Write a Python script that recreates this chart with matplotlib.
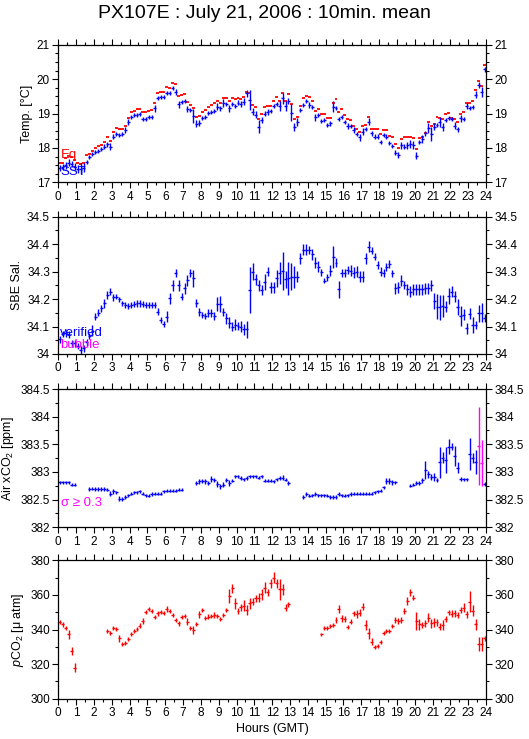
import numpy as np
import matplotlib
matplotlib.use('Agg')
import matplotlib.pyplot as plt
from matplotlib.ticker import MultipleLocator, FuncFormatter

plt.rcParams['font.family'] = ['Liberation Sans', 'DejaVu Sans']
plt.rcParams['mathtext.fontset'] = 'custom'
plt.rcParams['mathtext.rm'] = 'Liberation Sans'
plt.rcParams['mathtext.it'] = 'Liberation Sans:italic'

nan = np.nan

# 10 minute bins over the day (144 bins), one value per bin
# SST (blue) and equilibrator temperature (red dashes)
sst = [17.42, 17.45, 17.50, 17.57, 17.53, 17.45, 17.38, 17.40, 17.43, 17.60, 17.73, 17.82,
       17.87, 17.90, 17.96, 18.04, 18.10, 18.04, 18.33, 18.40, 18.37, 18.40, 18.52, 18.76,
       18.89, 18.95, 18.96, 18.98, 18.83, 18.83, 18.91, 18.91, 19.15, 19.44, 19.49, 19.49,
       19.59, 19.59, 19.73, 19.63, 19.27, 19.34, 19.36, 19.13, 19.10, 18.93, 18.70, 18.73,
       18.86, 18.91, 19.02, 19.05, 19.08, 19.20, 19.15, 19.30, 19.28, 19.15, 19.28, 19.22,
       19.32, 19.28, 19.34, 19.59, 19.39, 19.05, 18.96, 18.62, 18.81, 19.00, 19.05, 19.07,
       19.22, 19.28, 19.22, 19.44, 19.22, 19.36, 19.02, 18.60, 18.76, 19.10, 19.25, 19.36,
       19.25, 19.18, 18.89, 18.96, 18.79, 18.81, 18.67, 18.71, 19.20, 19.15, 18.83, 18.89,
       18.76, 18.64, 18.64, 18.52, 18.40, 18.31, 18.47, 18.54, 18.76, 18.42, 18.33, 18.33,
       18.18, 18.37, 18.33, 18.15, 18.06, 17.86, 17.79, 18.08, 18.04, 18.08, 18.11, 18.08,
       17.77, 18.18, 18.25, 18.42, 18.57, 18.40, 18.62, 18.67, 18.76, 18.60, 18.81, 18.86,
       18.83, 18.64, 18.54, 18.86, 18.83, 19.22, 19.15, 19.20, 19.54, 19.83, 19.63, 20.28]
sst_err = [0.08, 0.08, 0.10, 0.10, 0.08, 0.10, 0.12, 0.15, 0.12, 0.06, 0.06, 0.06,
           0.06, 0.06, 0.06, 0.06, 0.08, 0.10, 0.08, 0.06, 0.06, 0.06, 0.10, 0.08,
           0.06, 0.06, 0.06, 0.06, 0.06, 0.06, 0.06, 0.06, 0.10, 0.06, 0.06, 0.06,
           0.06, 0.06, 0.06, 0.08, 0.10, 0.06, 0.06, 0.08, 0.06, 0.20, 0.10, 0.08,
           0.06, 0.06, 0.06, 0.06, 0.06, 0.10, 0.08, 0.12, 0.06, 0.10, 0.06, 0.06,
           0.08, 0.08, 0.10, 0.10, 0.30, 0.10, 0.10, 0.20, 0.10, 0.08, 0.08, 0.06,
           0.06, 0.06, 0.15, 0.15, 0.15, 0.08, 0.25, 0.12, 0.12, 0.06, 0.06, 0.06,
           0.08, 0.06, 0.10, 0.06, 0.06, 0.06, 0.06, 0.06, 0.15, 0.06, 0.06, 0.06,
           0.06, 0.08, 0.06, 0.08, 0.06, 0.10, 0.10, 0.06, 0.10, 0.06, 0.06, 0.06,
           0.06, 0.06, 0.06, 0.06, 0.06, 0.08, 0.08, 0.10, 0.06, 0.10, 0.12, 0.12,
           0.10, 0.06, 0.12, 0.06, 0.15, 0.20, 0.10, 0.06, 0.15, 0.12, 0.06, 0.06,
           0.06, 0.10, 0.08, 0.10, 0.06, 0.08, 0.06, 0.06, 0.10, 0.08, 0.15, 0.06]
t_eq = [17.55, 17.55, 17.70, 17.77, 17.73, 17.65, 17.55, 17.53, 17.57, 17.78, 17.81, 17.91,
        17.99, 18.06, 18.08, 18.17, 18.31, 18.20, 18.45, 18.59, 18.54, 18.54, 18.65, 18.86,
        19.05, 19.08, 19.14, 19.14, 19.03, 19.03, 19.07, 19.10, 19.30, 19.59, 19.62, 19.63,
        19.76, 19.73, 19.88, 19.85, 19.51, 19.53, 19.56, 19.34, 19.26, 19.15, 18.91, 18.93,
        19.03, 19.09, 19.20, 19.24, 19.30, 19.37, 19.30, 19.46, 19.46, 19.36, 19.44, 19.41,
        19.46, 19.42, 19.49, 19.63, 19.61, 19.25, 19.18, 18.83, 18.98, 19.20, 19.22, 19.23,
        19.37, 19.47, 19.35, 19.61, 19.35, 19.56, 19.28, 18.83, 18.89, 19.23, 19.44, 19.52,
        19.47, 19.37, 19.07, 19.14, 18.98, 18.98, 18.86, 18.86, 19.31, 19.41, 19.03, 19.12,
        18.95, 18.83, 18.81, 18.64, 18.55, 18.47, 18.64, 18.67, 18.91, 18.54, 18.54, 18.54,
        18.40, 18.52, 18.52, 18.35, 18.31, 18.11, 17.99, 18.25, 18.31, 18.33, 18.31, 18.30,
        17.96, 18.30, 18.31, 18.42, 18.74, 18.65, 18.69, 18.89, 18.86, 18.85, 19.00, 19.02,
        18.86, 18.83, 18.74, 18.99, 19.03, 19.32, 19.32, 19.37, 19.68, 19.95, 19.81, 20.40]

# SBE salinity
sal = [34.053, 34.073, 34.075, 34.072, 34.039, 34.039, 34.029, 34.015, 34.020, 34.042, 34.065, 34.085,
       34.136, 34.150, 34.166, 34.184, 34.215, 34.227, 34.206, 34.209, 34.199, 34.184, 34.178, 34.175,
       34.178, 34.182, 34.184, 34.184, 34.182, 34.178, 34.178, 34.178, 34.178, 34.154, 34.124, 34.109,
       34.136, 34.203, 34.251, 34.294, 34.251, 34.209, 34.239, 34.269, 34.294, 34.275, 34.187, 34.154,
       34.142, 34.138, 34.148, 34.148, 34.138, 34.182, 34.182, 34.154, 34.130, 34.114, 34.100, 34.106,
       34.102, 34.100, 34.090, 34.090, 34.233, 34.300, 34.272, 34.251, 34.233, 34.263, 34.300, 34.243,
       34.243, 34.275, 34.296, 34.303, 34.272, 34.275, 34.282, 34.282, 34.282, 34.348, 34.379, 34.379,
       34.379, 34.363, 34.333, 34.318, 34.297, 34.267, 34.279, 34.303, 34.354, 34.333, 34.235, 34.296,
       34.294, 34.306, 34.303, 34.296, 34.300, 34.282, 34.282, 34.348, 34.391, 34.376, 34.354, 34.324,
       34.300, 34.296, 34.318, 34.328, 34.294, 34.239, 34.243, 34.266, 34.251, 34.235, 34.227, 34.235,
       34.235, 34.235, 34.235, 34.239, 34.239, 34.251, 34.193, 34.172, 34.170, 34.175, 34.172, 34.211,
       34.227, 34.211, 34.172, 34.138, 34.142, 34.093, 34.146, 34.106, 34.106, 34.148, 34.150, 34.130]
sal_err = [0.012, 0.012, 0.012, 0.012, 0.012, 0.012, 0.012, 0.015, 0.012, 0.012, 0.012, 0.02,
           0.012, 0.012, 0.012, 0.015, 0.015, 0.012, 0.012, 0.01, 0.01, 0.01, 0.01, 0.01,
           0.01, 0.012, 0.012, 0.012, 0.01, 0.01, 0.01, 0.01, 0.01, 0.012, 0.012, 0.012,
           0.02, 0.02, 0.02, 0.015, 0.02, 0.012, 0.02, 0.02, 0.015, 0.03, 0.015, 0.015,
           0.012, 0.012, 0.015, 0.015, 0.015, 0.025, 0.03, 0.015, 0.02, 0.02, 0.015, 0.02,
           0.015, 0.02, 0.02, 0.03, 0.085, 0.03, 0.02, 0.02, 0.02, 0.03, 0.015, 0.02,
           0.02, 0.03, 0.04, 0.07, 0.03, 0.06, 0.05, 0.04, 0.02, 0.02, 0.02, 0.02,
           0.015, 0.02, 0.02, 0.02, 0.012, 0.01, 0.012, 0.02, 0.04, 0.015, 0.03, 0.015,
           0.015, 0.015, 0.02, 0.02, 0.02, 0.02, 0.02, 0.02, 0.02, 0.012, 0.012, 0.015,
           0.015, 0.015, 0.015, 0.015, 0.012, 0.02, 0.02, 0.02, 0.015, 0.02, 0.02, 0.02,
           0.02, 0.02, 0.02, 0.02, 0.02, 0.02, 0.03, 0.045, 0.045, 0.04, 0.02, 0.03,
           0.02, 0.02, 0.03, 0.035, 0.02, 0.02, 0.02, 0.03, 0.015, 0.03, 0.035, 0.015]

# Air xCO2 (ppm)
xco2 = [382.81, 382.81, 382.81, 382.81, 382.77, 382.77, nan, nan, nan, nan, 382.69, 382.70,
        382.69, 382.69, 382.69, 382.69, 382.68, 382.61, 382.65, 382.63, 382.52, 382.51, 382.55, 382.58,
        382.61, 382.63, 382.63, 382.65, 382.61, 382.58, 382.57, 382.60, 382.61, 382.61, 382.61, 382.65,
        382.66, 382.66, 382.66, 382.66, 382.68, 382.68, nan, nan, nan, nan, 382.80, 382.83,
        382.84, 382.83, 382.80, 382.87, 382.86, 382.78, 382.74, 382.77, 382.86, 382.80, 382.84, 382.92,
        382.92, 382.89, 382.87, 382.89, 382.92, 382.92, 382.92, 382.90, 382.92, 382.84, 382.84, 382.84,
        382.83, 382.87, 382.89, 382.90, 382.86, 382.80, nan, nan, nan, nan, 382.55, 382.60,
        382.57, 382.58, 382.60, 382.58, 382.58, 382.58, 382.57, 382.55, 382.55, 382.55, 382.60, 382.58,
        382.57, 382.58, 382.60, 382.61, 382.61, 382.61, 382.61, 382.61, 382.61, 382.61, 382.63, 382.65,
        382.66, 382.72, 382.84, 382.84, 382.81, 382.81, nan, nan, nan, nan, 382.75, 382.77,
        382.80, 382.80, 382.85, 383.03, 382.96, 382.91, 382.91, 382.86, 383.18, 383.26, 383.22, 383.46,
        383.46, 383.29, 383.08, 382.87, 382.87, 382.87, 383.33, 383.25, 383.18, 383.47, 383.16, 382.78]
xco2_err = [0.03, 0.03, 0.03, 0.03, 0.03, 0.03, 0, 0, 0, 0, 0.03, 0.03,
            0.03, 0.03, 0.03, 0.03, 0.03, 0.05, 0.05, 0.03, 0.04, 0.04, 0.03, 0.03,
            0.03, 0.03, 0.03, 0.03, 0.03, 0.03, 0.03, 0.03, 0.03, 0.03, 0.03, 0.03,
            0.03, 0.03, 0.03, 0.03, 0.03, 0.03, 0, 0, 0, 0, 0.03, 0.04,
            0.04, 0.04, 0.03, 0.05, 0.04, 0.05, 0.05, 0.04, 0.04, 0.06, 0.03, 0.03,
            0.03, 0.03, 0.03, 0.03, 0.03, 0.03, 0.03, 0.03, 0.03, 0.03, 0.03, 0.03,
            0.03, 0.03, 0.04, 0.04, 0.03, 0.03, 0, 0, 0, 0, 0.03, 0.04,
            0.03, 0.03, 0.03, 0.03, 0.03, 0.03, 0.03, 0.03, 0.03, 0.03, 0.03, 0.03,
            0.03, 0.03, 0.03, 0.03, 0.03, 0.03, 0.03, 0.03, 0.03, 0.03, 0.03, 0.03,
            0.03, 0.03, 0.05, 0.05, 0.05, 0.03, 0, 0, 0, 0, 0.03, 0.03,
            0.04, 0.04, 0.05, 0.16, 0.06, 0.05, 0.08, 0.04, 0.28, 0.10, 0.23, 0.14,
            0.06, 0.18, 0.10, 0.04, 0.03, 0.03, 0.29, 0.09, 0.21, 0.71, 0.41, 0.03]

# pCO2 (uatm)
pco2 = [344.5, 343.0, 340.7, 337.2, 327.6, 317.9, nan, nan, nan, nan, nan, nan,
        nan, nan, nan, nan, 339.1, 337.8, 341.1, 340.1, 334.9, 331.4, 332.0, 334.5,
        337.2, 339.1, 340.1, 342.2, 344.9, 349.9, 351.9, 350.7, 347.4, 349.4, 349.9, 349.7,
        351.9, 350.7, 348.4, 345.5, 343.6, 347.4, 347.8, 344.5, 341.1, 339.7, 343.0, 348.8,
        351.3, 346.8, 347.4, 347.8, 348.4, 348.0, 346.1, 348.4, 351.3, 359.6, 363.8, 355.1,
        350.7, 352.8, 353.8, 351.3, 355.1, 356.1, 358.0, 358.4, 360.3, 364.2, 361.5, 366.7,
        370.0, 366.7, 363.2, 363.2, 352.6, 354.6, nan, nan, nan, nan, nan, nan,
        nan, nan, nan, nan, 337.2, 341.1, 340.7, 342.0, 342.6, 345.5, 351.9, 346.5,
        346.1, 341.6, 344.5, 349.4, 349.0, 349.7, 353.2, 342.6, 337.8, 333.0, 330.1, 330.7,
        332.6, 337.8, 339.1, 339.1, 342.2, 345.5, 344.9, 345.5, 350.7, 356.5, 361.5, 358.4,
        344.9, 343.0, 342.6, 343.6, 346.8, 343.6, 344.1, 344.1, 341.6, 342.6, 346.1, 349.9,
        349.0, 349.4, 348.4, 351.3, 352.6, 348.8, 356.1, 350.9, 343.0, 331.4, 331.4, 334.9]
pco2_err = [1.2, 1.5, 1.2, 2.5, 2.5, 2.5, 0, 0, 0, 0, 0, 0,
            0, 0, 0, 0, 1.2, 1.2, 1.2, 1.2, 2.0, 1.2, 1.2, 1.2,
            1.2, 1.2, 1.2, 1.5, 1.5, 1.2, 1.2, 1.2, 1.2, 1.5, 1.2, 1.2,
            1.5, 1.2, 1.2, 1.2, 1.5, 1.2, 1.2, 2.0, 1.2, 2.5, 1.2, 2.0,
            1.2, 1.2, 1.5, 1.2, 1.5, 1.2, 1.2, 1.2, 1.2, 4.0, 2.5, 3.0,
            2.0, 2.0, 3.0, 3.0, 3.0, 2.0, 2.0, 2.5, 3.0, 3.0, 2.0, 2.5,
            3.0, 2.5, 6.0, 3.0, 2.0, 1.5, 0, 0, 0, 0, 0, 0,
            0, 0, 0, 0, 1.0, 1.2, 1.2, 1.2, 1.2, 2.0, 2.5, 2.0,
            1.5, 1.2, 1.5, 1.5, 2.5, 2.0, 2.0, 3.0, 3.0, 2.0, 1.2, 1.2,
            1.2, 1.2, 1.2, 1.2, 1.2, 2.0, 1.5, 2.0, 2.0, 2.5, 2.0, 1.5,
            5.0, 3.0, 1.5, 2.0, 2.5, 2.5, 2.5, 2.0, 2.0, 3.0, 2.0, 1.5,
            2.0, 2.0, 1.5, 2.0, 2.5, 2.0, 6.0, 3.0, 3.0, 4.0, 4.0, 1.5]

hours = (np.arange(144) + 0.5) / 6.0
half_bin = 1.0 / 12.0

BLUE = '#0000ff'
RED = '#ff0000'
MAGENTA = '#ff00ff'


def setup(ax, ylim, major, minor, ylabel):
    ax.set_xlim(0, 24)
    ax.set_ylim(*ylim)
    ax.xaxis.set_major_locator(MultipleLocator(1))
    ax.xaxis.set_minor_locator(MultipleLocator(0.5))
    ax.yaxis.set_major_locator(MultipleLocator(major))
    ax.yaxis.set_minor_locator(MultipleLocator(minor))
    ax.yaxis.set_major_formatter(FuncFormatter(lambda v, p: '%g' % round(v, 3)))
    ax.tick_params(which='both', direction='out', top=True, right=True,
                   labelright=True, labelsize=8.5, width=0.8, pad=2)
    ax.tick_params(which='major', length=4)
    ax.tick_params(which='minor', length=2.2)
    for s in ax.spines.values():
        s.set_linewidth(0.9)
    ax.set_ylabel(ylabel, fontsize=9, labelpad=3)


def bins(ax, y, err, color, lw=1.0):
    ax.errorbar(hours, y, xerr=half_bin, yerr=err, fmt='none',
                ecolor=color, elinewidth=lw, capsize=0)


fig = plt.figure(figsize=(5.29, 7.39), dpi=100)
left, width = 0.1102, 0.8085
ax1 = fig.add_axes([left, 0.7533, width, 0.1862])
ax2 = fig.add_axes([left, 0.5210, width, 0.1858])
ax3 = fig.add_axes([left, 0.2865, width, 0.1871])
ax4 = fig.add_axes([left, 0.0545, width, 0.1873])

# Temperature
ax1.errorbar(hours, t_eq, xerr=half_bin, fmt='none', ecolor=RED, elinewidth=1.3, capsize=0)
bins(ax1, sst, sst_err, BLUE)
setup(ax1, (17, 21), 1, 0.25, 'Temp. [°C]')
ax1.text(0.15, 17.78, 'Eq', color=RED, fontsize=9.5, va='center')
ax1.text(0.1, 17.3, 'SST', color=BLUE, fontsize=9.5, va='center')

# Salinity
bins(ax2, sal, sal_err, BLUE)
setup(ax2, (34, 34.5), 0.1, 0.05, 'SBE Sal.')
ax2.text(0.12, 34.078, 'verified', color=BLUE, fontsize=9.5, va='center')
ax2.text(0.12, 34.033, 'bubble', color=MAGENTA, fontsize=9.5, va='center')

# Air xCO2, bins with sigma >= 0.3 in magenta
xco2_a = np.array(xco2)
xco2_e = np.array(xco2_err)
flag = xco2_e >= 0.3
bins(ax3, np.where(flag, nan, xco2_a), xco2_e, BLUE)
bins(ax3, np.where(flag, xco2_a, nan), xco2_e, MAGENTA)
setup(ax3, (382, 384.5), 0.5, 0.25, 'Air xCO$_2$ [ppm]')
ax3.text(0.15, 382.43, 'σ ≥ 0.3', color=MAGENTA, fontsize=9.5, va='center')

# pCO2
bins(ax4, pco2, pco2_err, RED)
setup(ax4, (300, 380), 20, 10, '$\\it{p}$CO$_2$ [μ atm]')
ax4.set_xlabel('Hours (GMT)', fontsize=9, labelpad=3)

fig.suptitle('PX107E : July 21, 2006 : 10min. mean', fontsize=14, y=0.993)

fig.savefig('out.png', dpi=100)
